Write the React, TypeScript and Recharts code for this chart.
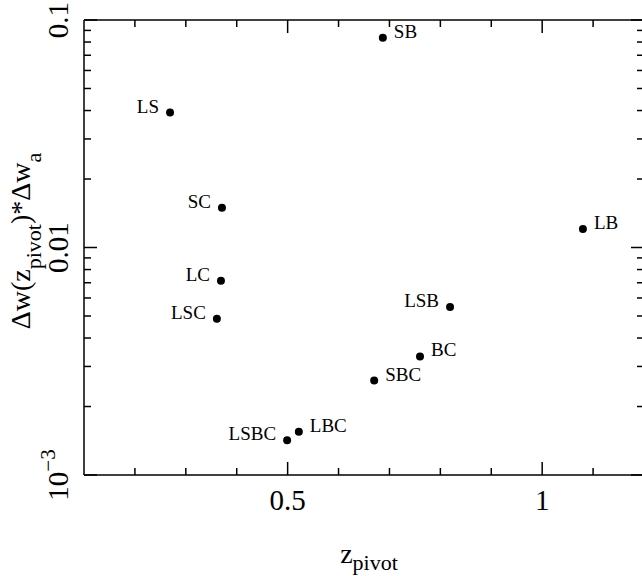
import React from "react";
import { ScatterChart, Scatter, XAxis, YAxis } from "recharts";

// combinations of probes, pivot redshift and Δw(z_pivot)*Δw_a
const names = ["SB", "LS", "SC", "LB", "LC", "LSC", "LSB", "BC", "SBC", "LBC", "LSBC"];
const zPivot = [0.687, 0.269, 0.371, 1.08, 0.369, 0.361, 0.819, 0.76, 0.67, 0.522, 0.499];
const product = [0.0835, 0.0392, 0.01496, 0.01205, 0.00714, 0.00486, 0.00548, 0.00332, 0.0026, 0.00155, 0.00142];
// labels written on the left of their point
const leftLabelled = ["LS", "SC", "LC", "LSC", "LSB", "LSBC"];

const xMajor = [0.5, 1];
const xMajorLabels = ["0.5", "1"];
const xMinor = [0.2, 0.3, 0.4, 0.6, 0.7, 0.8, 0.9, 1.1];
const yMajor = [0.001, 0.01, 0.1];
const yMajorLabels = ["10", "0.01", "0.1"];
const yMinor = [
  0.002, 0.003, 0.004, 0.005, 0.006, 0.007, 0.008, 0.009,
  0.02, 0.03, 0.04, 0.05, 0.06, 0.07, 0.08, 0.09,
];

const data = names.map((name, i) => ({ name, z: zPivot[i], v: product[i] }));

const SERIF = "'Liberation Serif', 'DejaVu Serif', serif";
const MAJOR = 13;
const MINOR = 7;
const LW = 1.5;

const BottomTick = (props: any) => {
  const { x, y, payload } = props;
  const i = xMajor.indexOf(payload.value);
  return (
    <g>
      <line x1={x} y1={y} x2={x} y2={y - (i >= 0 ? MAJOR : MINOR)} stroke="#000" strokeWidth={LW} />
      {i >= 0 && (
        <text x={x} y={y + 35} textAnchor="middle" fontFamily={SERIF} fontSize={29} fill="#000">
          {xMajorLabels[i]}
        </text>
      )}
    </g>
  );
};

const TopTick = (props: any) => {
  const { x, y, payload } = props;
  const len = xMajor.indexOf(payload.value) >= 0 ? MAJOR : MINOR;
  return <line x1={x} y1={y} x2={x} y2={y + len} stroke="#000" strokeWidth={LW} />;
};

const LeftTick = (props: any) => {
  const { x, y, payload } = props;
  const i = yMajor.indexOf(payload.value);
  const tx = x - 16;
  return (
    <g>
      <line x1={x} y1={y} x2={x + (i >= 0 ? MAJOR : MINOR)} y2={y} stroke="#000" strokeWidth={LW} />
      {i >= 0 && (
        <text
          x={tx}
          y={y}
          transform={`rotate(-90 ${tx} ${y})`}
          textAnchor="middle"
          fontFamily={SERIF}
          fontSize={29}
          fill="#000"
        >
          {yMajorLabels[i]}
          {i === 0 && (
            <tspan fontSize={21} dy={-13}>
              −3
            </tspan>
          )}
        </text>
      )}
    </g>
  );
};

const RightTick = (props: any) => {
  const { x, y, payload } = props;
  const len = yMajor.indexOf(payload.value) >= 0 ? MAJOR : MINOR;
  return <line x1={x} y1={y} x2={x - len} y2={y} stroke="#000" strokeWidth={LW} />;
};

const XTitle = () => (
  <text x={369} y={563} textAnchor="middle" fontFamily={SERIF} fontSize={28} fill="#000">
    z
    <tspan fontSize={22} dy={7}>
      pivot
    </tspan>
  </text>
);

const YTitle = () => (
  <text
    x={30}
    y={241}
    transform="rotate(-90 30 241)"
    textAnchor="middle"
    fontFamily={SERIF}
    fontSize={28}
    fill="#000"
  >
    Δw(z
    <tspan fontSize={22} dy={11}>
      pivot
    </tspan>
    <tspan dy={-11}>)*Δw</tspan>
    <tspan fontSize={22} dy={11}>
      a
    </tspan>
  </text>
);

const Dot = (props: any) => {
  const { cx, cy, payload } = props;
  const left = leftLabelled.includes(payload.name);
  return (
    <g>
      <circle cx={cx} cy={cy} r={4} fill="#000" />
      <text
        x={left ? cx - 11 : cx + 11}
        y={cy}
        textAnchor={left ? "end" : "start"}
        fontFamily={SERIF}
        fontSize={19}
        fill="#000"
      >
        {payload.name}
      </text>
    </g>
  );
};

export default function App() {
  const xTicks = [...xMinor, ...xMajor].sort((a, b) => a - b);
  const yTicks = [...yMinor, ...yMajor].sort((a, b) => a - b);
  return (
    <div
      style={{
        position: "absolute",
        left: 0,
        top: 0,
        width: 642,
        height: 576,
        overflow: "hidden",
        background: "#fff",
      }}
    >
      <ScatterChart width={650} height={576} margin={{ top: 19, right: 5, bottom: 100, left: 83 }}>
        <XAxis
          xAxisId="b"
          dataKey="z"
          type="number"
          domain={[0.1, 1.2]}
          allowDataOverflow
          ticks={xTicks}
          interval={0}
          height={1}
          tickSize={0}
          tickMargin={0}
          tickLine={false}
          axisLine={{ stroke: "#000", strokeWidth: LW }}
          tick={<BottomTick />}
          label={{ content: <XTitle /> }}
        />
        <XAxis
          xAxisId="t"
          orientation="top"
          dataKey="z"
          type="number"
          domain={[0.1, 1.2]}
          allowDataOverflow
          ticks={xTicks}
          interval={0}
          height={1}
          tickSize={0}
          tickMargin={0}
          tickLine={false}
          axisLine={{ stroke: "#000", strokeWidth: LW }}
          tick={<TopTick />}
        />
        <YAxis
          yAxisId="l"
          dataKey="v"
          type="number"
          scale="log"
          domain={[0.001, 0.1]}
          allowDataOverflow
          ticks={yTicks}
          interval={0}
          width={1}
          tickSize={0}
          tickMargin={0}
          tickLine={false}
          axisLine={{ stroke: "#000", strokeWidth: LW }}
          tick={<LeftTick />}
          label={{ content: <YTitle /> }}
        />
        <YAxis
          yAxisId="r"
          orientation="right"
          dataKey="v"
          type="number"
          scale="log"
          domain={[0.001, 0.1]}
          allowDataOverflow
          ticks={yTicks}
          interval={0}
          width={1}
          tickSize={0}
          tickMargin={0}
          tickLine={false}
          axisLine={{ stroke: "#000", strokeWidth: LW }}
          tick={<RightTick />}
        />
        <Scatter xAxisId="t" yAxisId="r" data={data} shape={() => <g />} isAnimationActive={false} />
        <Scatter xAxisId="b" yAxisId="l" data={data} shape={<Dot />} isAnimationActive={false} />
      </ScatterChart>
    </div>
  );
}
